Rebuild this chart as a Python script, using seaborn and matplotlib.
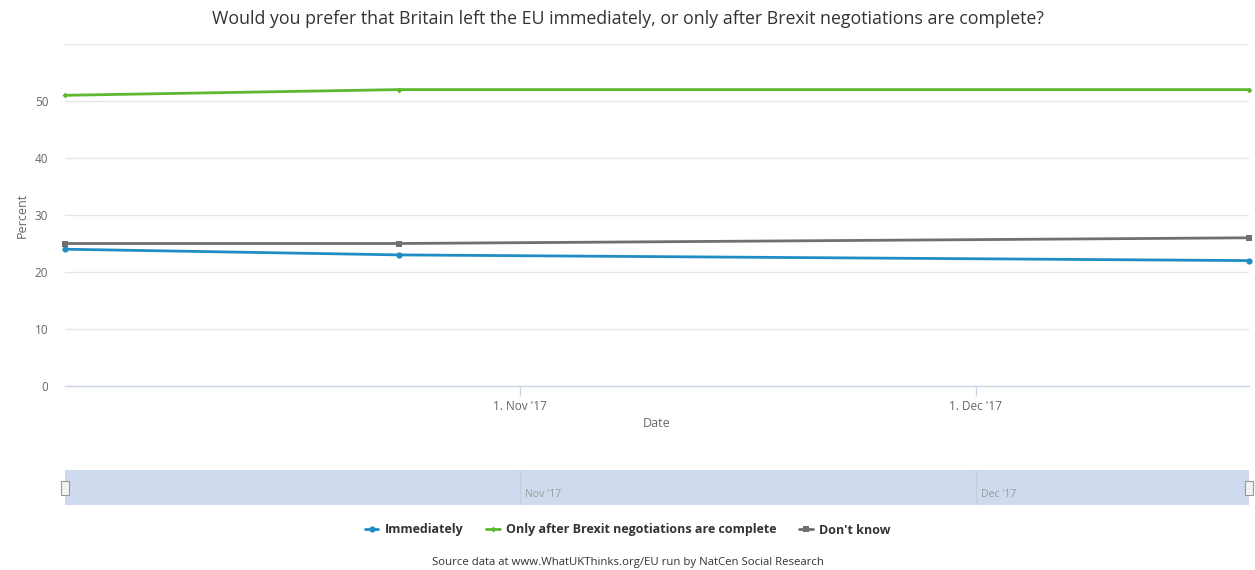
import matplotlib
matplotlib.use("Agg")
import matplotlib.pyplot as plt
import matplotlib.dates as mdates
from matplotlib.patches import Rectangle
from matplotlib.lines import Line2D
import seaborn as sns
import pandas as pd
import numpy as np

# ---- data ----
dates = ["2017-10-02", "2017-10-24", "2017-12-19"]
immediately = [24, 23, 22]
after_negotiations = [51, 52, 52]
dont_know = [25, 25, 26]
series_names = ["Immediately", "Only after Brexit negotiations are complete", "Don't know"]
y_ticks = [0, 10, 20, 30, 40, 50, 60]
nav_months = ["2017-11-01", "2017-12-01"]

title = "Would you prefer that Britain left the EU immediately, or only after Brexit negotiations are complete?"
source = "Source data at www.WhatUKThinks.org/EU run by NatCen Social Research"

colors = {"Immediately": "#1f8dc4",
          "Only after Brexit negotiations are complete": "#5cb82e",
          "Don't know": "#707070"}
markers = {"Immediately": "o",
           "Only after Brexit negotiations are complete": "D",
           "Don't know": "s"}
msizes = {"Immediately": 4.5,
          "Only after Brexit negotiations are complete": 3.0,
          "Don't know": 4.5}

df = pd.DataFrame({
    "Date": pd.to_datetime(dates * 3),
    "Percent": immediately + after_negotiations + dont_know,
    "Series": [series_names[0]] * 3 + [series_names[1]] * 3 + [series_names[2]] * 3,
})

sns.set_style("white")
plt.rcParams["font.family"] = ["Open Sans", "DejaVu Sans"]

W, H = 1255, 570
fig = plt.figure(figsize=(W / 100, H / 100), dpi=100)

def fr(x0, y0, x1, y1):
    return [x0 / W, 1 - y1 / H, (x1 - x0) / W, (y1 - y0) / H]

ax = fig.add_axes(fr(65, 44, 1249, 386))
for name in series_names:
    sub = df[df["Series"] == name]
    sns.lineplot(data=sub, x="Date", y="Percent", ax=ax, color=colors[name],
                 marker=markers[name], markersize=msizes[name], markeredgewidth=0,
                 linewidth=2, legend=False)

xmin, xmax = pd.to_datetime(dates[0]), pd.to_datetime(dates[-1])
ax.set_xlim(xmin, xmax)
ax.set_ylim(0, 60)
ax.set_yticks(y_ticks)
ax.set_yticklabels([str(v) if v < 60 else "" for v in y_ticks])
ax.grid(axis="y", color="#e6e6e6", linewidth=1)
ax.grid(axis="x", visible=False)
for s in ["top", "right", "left"]:
    ax.spines[s].set_visible(False)
ax.spines["bottom"].set_color("#ccd6eb")
ax.spines["bottom"].set_linewidth(1)
ax.set_axisbelow(True)

ax.xaxis.set_major_locator(mdates.MonthLocator(bymonthday=1))
ax.xaxis.set_major_formatter(mdates.DateFormatter("1. %b '%y"))
ax.tick_params(axis="x", which="major", length=7, width=1, color="#ccd6eb",
               labelsize=8.5, labelcolor="#666666", pad=3, direction="out", bottom=True)
ax.tick_params(axis="y", length=0, labelsize=8.5, labelcolor="#666666", pad=12)
ax.set_xlabel("Date", fontsize=9, color="#666666", labelpad=3)
ax.set_ylabel("Percent", fontsize=9, color="#666666", labelpad=4)
for c in ax.lines:
    c.set_clip_on(False)

fig.text(0.5, 1 - 19 / H, title, ha="center", va="center", fontsize=12.8, color="#333333")

# ---- navigator ----
nav = fig.add_axes(fr(65, 470, 1249, 505))
nav.set_xlim(xmin, xmax)
nav.set_ylim(0, 1)
nav.set_facecolor("#d0daee")
for s in nav.spines.values():
    s.set_visible(False)
nav.set_yticks([])
nav.set_xticks([])
nav.grid(False)
for m in pd.to_datetime(nav_months):
    nav.axvline(m, color="#c4cee2", linewidth=1)
    nav.text(m + pd.Timedelta(hours=8), 0.3, m.strftime("%b '%y"), fontsize=7.5,
             color="#999999", ha="left", va="center")
for xpos in [0, 1]:
    nav.add_patch(Rectangle((xpos - 0.003, 0.3), 0.006, 0.4, transform=nav.transAxes,
                            facecolor="#f2f2f2", edgecolor="#999999", linewidth=0.8,
                            clip_on=False, zorder=5))

# ---- legend ----
handles = [Line2D([0], [0], color=colors[n], marker=markers[n], markersize=msizes[n],
                  markeredgewidth=0, linewidth=2) for n in series_names]
leg = fig.legend(handles, series_names, loc="center", bbox_to_anchor=(0.5, 1 - 530 / H),
                 ncol=3, frameon=False, handlelength=1.1, handletextpad=0.5,
                 columnspacing=1.8, prop={"weight": "bold", "size": 9.0})
for t in leg.get_texts():
    t.set_color("#333333")

fig.text(0.5, 1 - 562 / H, source, ha="center", va="center", fontsize=8.2, color="#333333")

fig.savefig("out.png", dpi=100)
